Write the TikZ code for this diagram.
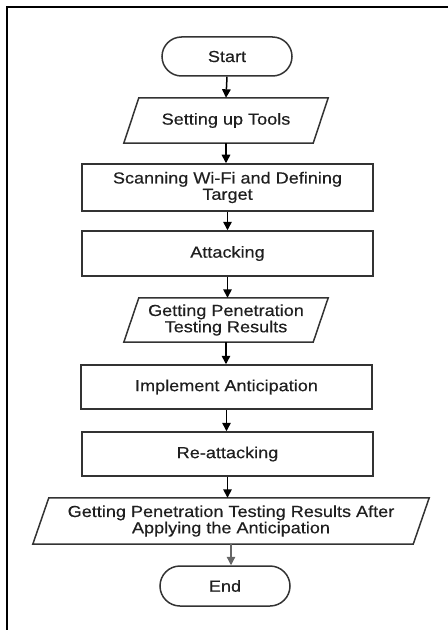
\documentclass[tikz,border=0pt]{standalone}
\usepackage{fontspec}
\setmainfont{Liberation Sans}[FakeStretch=1.13,FakeBold=0.4]
\usetikzlibrary{arrows.meta}
\begin{document}
\begin{tikzpicture}[x=1bp,y=-1bp,
  box/.style={draw=black!80,line width=1.5bp,fill=white,inner sep=0pt,align=center,
    font=\fontsize{16bp}{16.3bp}\selectfont,text=black!88},
  rectbox/.style={box,rectangle},
  parabox/.style={rectangle,draw=none,inner sep=0pt,align=center,
    font=\fontsize{16bp}{16.3bp}\selectfont,text=black!88},
  edge/.style={draw=black,line width=1.5bp,-{Triangle[width=8.5bp,length=8.5bp]}},
  grayedge/.style={draw=black!60,line width=1.2bp,-{Triangle[width=8.5bp,length=8.5bp]}},
  frameline/.style={draw=black,line width=2.2bp}]
\useasboundingbox (0,0) rectangle (448,630);
\coordinate (f1) at (7,631);
\coordinate (f2) at (7,7);
\coordinate (f3) at (449,7);
\draw[frameline] (f1) -- (f2) -- (f3);

\node[box,rounded corners=19.5bp,minimum width=130bp,minimum height=39bp] (start) at (227,56.5) {Start};
\node[parabox,minimum width=204bp,minimum height=45bp] (set) at (226,120.5) {Setting up Tools};
\node[rectbox,minimum width=291bp,minimum height=47bp] (scan) at (227.5,187.5) {Scanning Wi-Fi and Defining\\Target};
\node[rectbox,minimum width=291bp,minimum height=45bp] (att) at (227.5,253.5) {Attacking};
\node[parabox,minimum width=204bp,minimum height=44bp] (get) at (226,320) {Getting Penetration\\Testing Results};
\node[rectbox,minimum width=291bp,minimum height=44bp] (impl) at (226.5,387) {Implement Anticipation};
\node[rectbox,minimum width=291bp,minimum height=44bp] (re) at (227.5,454) {Re-attacking};
\node[parabox,minimum width=396bp,minimum height=46bp] (fin) at (231,521) {Getting Penetration Testing Results After\\Applying the Anticipation};
\node[box,rounded corners=20bp,minimum width=130bp,minimum height=40bp] (end) at (225,586) {End};

\foreach \n/\s in {set/15,get/15,fin/16}{
  \draw[draw=black!80,line width=1.5bp]
    ([xshift=\s bp]\n.north west) -- (\n.north east) -- ([xshift=-\s bp]\n.south east) -- (\n.south west) -- cycle;
}

\draw[edge] (start.south) -- (set.north);
\draw[edge] (set.south) -- (set.south |- scan.north);
\draw[edge] (scan.south) -- (att.north);
\draw[edge] (att.south) -- (att.south |- get.north);
\draw[edge] (get.south) -- (get.south |- impl.north);
\draw[edge] (impl.south) -- (impl.south |- re.north);
\draw[edge] (re.south) -- (re.south |- fin.north);
\draw[grayedge] (fin.south) -- (fin.south |- end.north);
\end{tikzpicture}
\end{document}
